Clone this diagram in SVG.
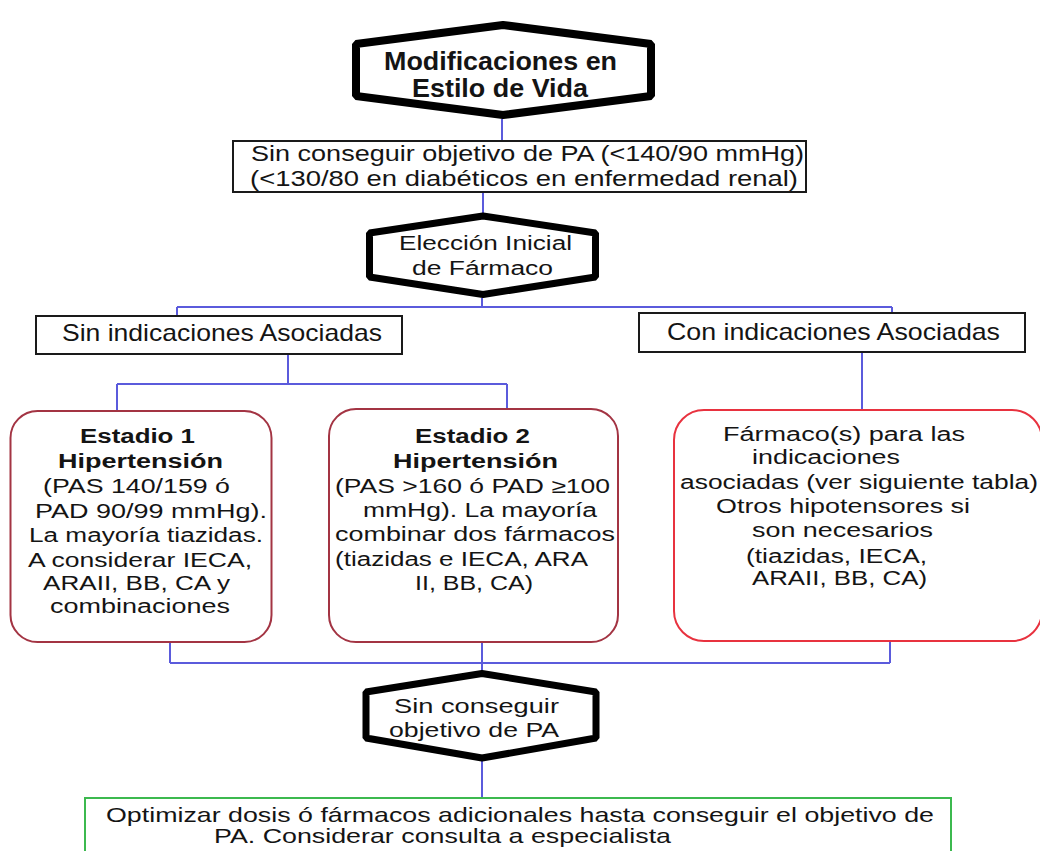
<svg xmlns="http://www.w3.org/2000/svg" width="1040" height="851" viewBox="0 0 1040 851">
<style>
.t{font-family:"Liberation Sans",Arial,sans-serif;fill:#141414}
.b{font-weight:bold}
.hex{fill:#fff;stroke:#000;stroke-linejoin:bevel}
.box{fill:#fff;stroke:#1a1a1a;stroke-width:2}
.c{fill:none;stroke:#5b5bdc;stroke-width:2}
</style>
<rect width="1040" height="851" fill="#fff"/>
<g id="connectors" class="c">
<path d="M502,119V141"/>
<path d="M483,192V214"/>
<path d="M482,298V307M177,307H892M177,307V316M892,307V313"/>
<path d="M288,354V384M117,384H507M117,384V411M507,384V409"/>
<path d="M862,352V410"/>
<path d="M170,643V663M890,641V663M170,663H890M482,642V672"/>
<path d="M482,760V798"/>
</g>
<g id="n1">
<polygon class="hex" stroke-width="8" points="356,44 503,25 651,44 651,96 503,115 356,96"/>
<text class="t b" font-size="25" x="384" y="70" textLength="233" lengthAdjust="spacingAndGlyphs">Modificaciones en</text>
<text class="t b" font-size="25" x="412" y="97" textLength="176" lengthAdjust="spacingAndGlyphs">Estilo de Vida</text>
</g>
<g id="n2">
<rect class="box" x="233" y="141" width="573" height="51"/>
<text class="t" font-size="22" x="251" y="161" textLength="553" lengthAdjust="spacingAndGlyphs">Sin conseguir objetivo de PA (&lt;140/90 mmHg)</text>
<text class="t" font-size="22" x="250" y="186" textLength="548" lengthAdjust="spacingAndGlyphs">(&lt;130/80 en diabéticos en enfermedad renal)</text>
</g>
<g id="n3">
<polygon class="hex" stroke-width="7" points="369.5,233 483,216 595.5,233 595.5,277 483,294.5 369.5,277"/>
<text class="t" font-size="20" x="399" y="250" textLength="173" lengthAdjust="spacingAndGlyphs">Elección Inicial</text>
<text class="t" font-size="20" x="412" y="275" textLength="141" lengthAdjust="spacingAndGlyphs">de Fármaco</text>
</g>
<g id="n4">
<rect class="box" x="36" y="316" width="366" height="38"/>
<text class="t" font-size="24" x="62" y="341" textLength="320" lengthAdjust="spacingAndGlyphs">Sin indicaciones Asociadas</text>
</g>
<g id="n5">
<rect class="box" x="639" y="313" width="386" height="39"/>
<text class="t" font-size="24" x="667" y="340" textLength="333" lengthAdjust="spacingAndGlyphs">Con indicaciones Asociadas</text>
</g>
<g id="n6">
<rect x="10.5" y="411" width="261" height="231" rx="27" fill="#fff" stroke="#a33443" stroke-width="2"/>
<text class="t b" font-size="20" x="80" y="443" textLength="115" lengthAdjust="spacingAndGlyphs">Estadio 1</text>
<text class="t b" font-size="20" x="58" y="468" textLength="165" lengthAdjust="spacingAndGlyphs">Hipertensión</text>
<text class="t" font-size="20" x="43" y="493" textLength="187" lengthAdjust="spacingAndGlyphs">(PAS 140/159 ó</text>
<text class="t" font-size="20" x="35" y="518" textLength="232" lengthAdjust="spacingAndGlyphs">PAD 90/99 mmHg).</text>
<text class="t" font-size="20" x="29" y="542" textLength="234" lengthAdjust="spacingAndGlyphs">La mayoría tiazidas.</text>
<text class="t" font-size="20" x="28" y="567" textLength="224" lengthAdjust="spacingAndGlyphs">A considerar IECA,</text>
<text class="t" font-size="20" x="43" y="590" textLength="187" lengthAdjust="spacingAndGlyphs">ARAII, BB, CA y</text>
<text class="t" font-size="20" x="50" y="613" textLength="180" lengthAdjust="spacingAndGlyphs">combinaciones</text>
</g>
<g id="n7">
<rect x="329" y="409" width="289" height="233" rx="27" fill="#fff" stroke="#a33443" stroke-width="2"/>
<text class="t b" font-size="20" x="415" y="443" textLength="115" lengthAdjust="spacingAndGlyphs">Estadio 2</text>
<text class="t b" font-size="20" x="393" y="468" textLength="165" lengthAdjust="spacingAndGlyphs">Hipertensión</text>
<text class="t" font-size="20" x="335" y="493" textLength="275" lengthAdjust="spacingAndGlyphs">(PAS &gt;160 ó PAD ≥100</text>
<text class="t" font-size="20" x="363" y="517" textLength="234" lengthAdjust="spacingAndGlyphs">mmHg). La mayoría</text>
<text class="t" font-size="20" x="335" y="541" textLength="280" lengthAdjust="spacingAndGlyphs">combinar dos fármacos</text>
<text class="t" font-size="20" x="335" y="566" textLength="253" lengthAdjust="spacingAndGlyphs">(tiazidas e IECA, ARA</text>
<text class="t" font-size="20" x="415" y="590" textLength="118" lengthAdjust="spacingAndGlyphs">II, BB, CA)</text>
</g>
<g id="n8">
<rect x="674" y="410" width="368" height="231" rx="30" fill="#fff" stroke="#e8323f" stroke-width="2"/>
<text class="t" font-size="20" x="723" y="441" textLength="242" lengthAdjust="spacingAndGlyphs">Fármaco(s) para las</text>
<text class="t" font-size="20" x="752" y="464" textLength="148" lengthAdjust="spacingAndGlyphs">indicaciones</text>
<text class="t" font-size="20" x="680" y="489" textLength="358" lengthAdjust="spacingAndGlyphs">asociadas (ver siguiente tabla)</text>
<text class="t" font-size="20" x="716" y="513" textLength="254" lengthAdjust="spacingAndGlyphs">Otros hipotensores si</text>
<text class="t" font-size="20" x="752" y="537" textLength="181" lengthAdjust="spacingAndGlyphs">son necesarios</text>
<text class="t" font-size="20" x="746" y="563" textLength="181" lengthAdjust="spacingAndGlyphs">(tiazidas, IECA,</text>
<text class="t" font-size="20" x="752" y="585" textLength="175" lengthAdjust="spacingAndGlyphs">ARAII, BB, CA)</text>
</g>
<g id="n9">
<polygon class="hex" stroke-width="7" points="366,692 482,673.5 596,692 596,738 482,758 366,738"/>
<text class="t" font-size="21" x="394" y="713" textLength="165" lengthAdjust="spacingAndGlyphs">Sin conseguir</text>
<text class="t" font-size="21" x="389" y="737" textLength="170" lengthAdjust="spacingAndGlyphs">objetivo de PA</text>
</g>
<g id="n10">
<rect x="85" y="798" width="866" height="70" fill="#fff" stroke="#3cb94f" stroke-width="2"/>
<text class="t" font-size="21" x="106" y="822" textLength="828" lengthAdjust="spacingAndGlyphs">Optimizar dosis ó fármacos adicionales hasta conseguir el objetivo de</text>
<text class="t" font-size="21" x="214" y="843" textLength="457" lengthAdjust="spacingAndGlyphs">PA. Considerar consulta a especialista</text>
</g>
</svg>
